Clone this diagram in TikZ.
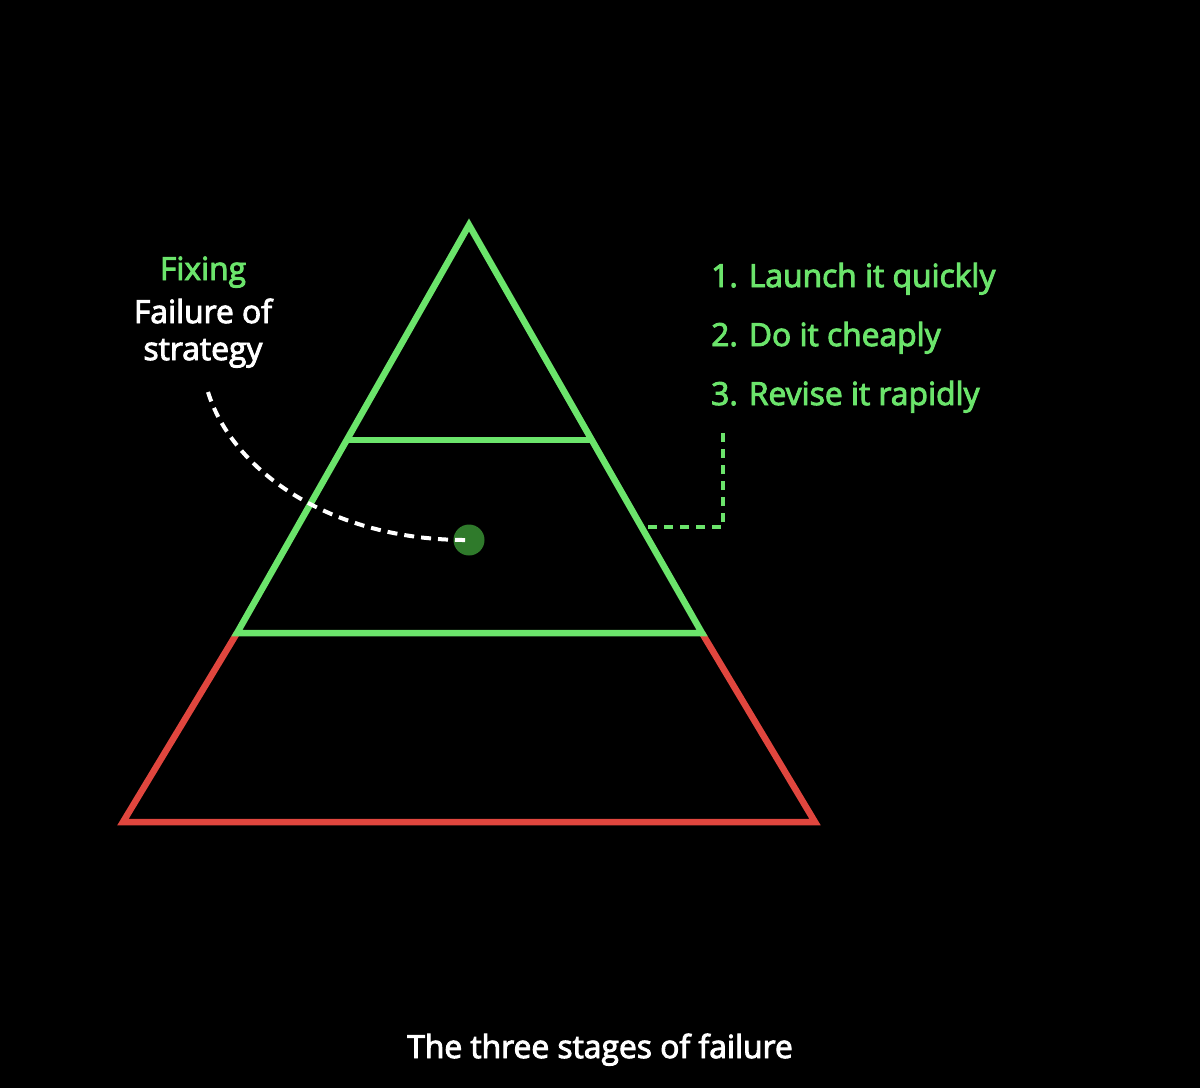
\documentclass[tikz,border=0pt]{standalone}
\usepackage{fontspec}
\setmainfont{Open Sans}[FakeBold=3]
\definecolor{pgreen}{HTML}{6BE46B}
\definecolor{pred}{HTML}{E0463E}
\definecolor{dotgreen}{HTML}{2F7A2B}
\begin{document}
\begin{tikzpicture}[x=1pt,y=-1pt,
  edge/.style={line width=6.5pt,line join=miter,line cap=butt},
  label/.style={inner sep=0pt,font=\fontsize{31.8}{36}\selectfont},
  gdash/.style={pgreen,line width=4pt,dash pattern=on 9pt off 7pt},
  wdash/.style={white,line width=4pt,dash pattern=on 10pt off 7pt}]
\fill[black] (0,0) rectangle (1200,1088);
\useasboundingbox (0,0) rectangle (1200,1088);
% pyramid corners
\coordinate (apex) at (469,225);
\coordinate (t1l) at (348,440);
\coordinate (t1r) at (590,440);
\coordinate (t2l) at (237,633);
\coordinate (t2r) at (702,633);
\coordinate (bl) at (123,822);
\coordinate (br) at (815,822);
% red base
\draw[edge,pred] (t2l) -- (bl) -- (br) -- (t2r);
% green top
\draw[edge,pgreen] (t2r) -- (apex) -- (t2l) -- cycle;
\draw[edge,pgreen] (t1l) -- (t1r);
% dot
\node[circle,fill=dotgreen,minimum size=31pt,inner sep=0pt] (dot) at (469,540) {};
% left labels
\node[label,pgreen,anchor=base] (fix) at (203,280) {Fixing};
\node[label,white,anchor=base] (fail) at (203,323) {Failure of};
\node[label,white,anchor=base] (strat) at (203,360) {strategy};
\coordinate (cs) at (208,392);
\draw[wdash] (cs) .. controls (232,470) and (330,541) .. (dot.center);
% right list
\node[label,pgreen,anchor=base west] (l1) at (711,287) {1. Launch it quickly};
\node[label,pgreen,anchor=base west] (l2) at (711,346) {2. Do it cheaply};
\node[label,pgreen,anchor=base west] (l3) at (711,405) {3. Revise it rapidly};
\coordinate (gs) at (648,527);
\coordinate (gc) at (723,527);
\coordinate (ge) at (723,430);
\draw[gdash] (gs) -- (gc) -- (ge);
% caption
\node[label,white,anchor=base] (cap) at (600,1058) {The three stages of failure};
\end{tikzpicture}
\end{document}
